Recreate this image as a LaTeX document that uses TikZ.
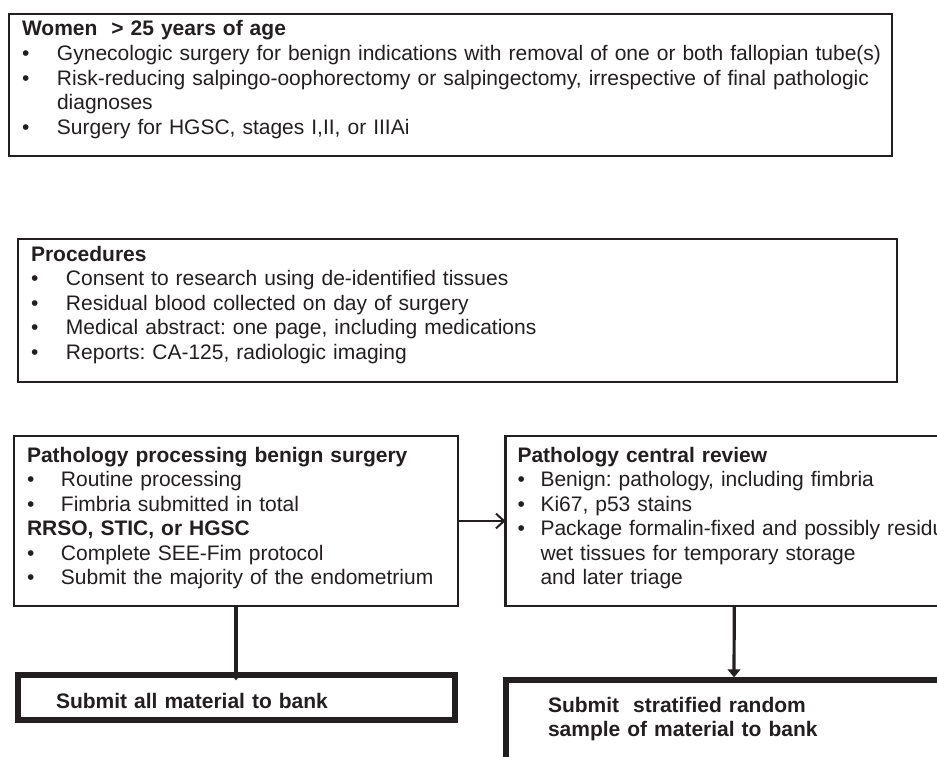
\documentclass[tikz,border=0pt]{standalone}
\usepackage{fontspec}
\setmainfont{Liberation Sans}
\usepackage{tikz}
\definecolor{inkgray}{RGB}{35,31,32}
\usetikzlibrary{arrows.meta, positioning}
\tikzset{
    sgbox/.style={draw=inkgray, text=inkgray, line width=2pt, anchor=north west, align=left,
      inner xsep=9.75pt, inner ysep=0pt, outer sep=0pt,
      font=\fontsize{15.75pt}{18.4pt}\selectfont},
    sgpath/.style={sgbox, line width=1.6pt, text height=19.5pt, text depth=108pt},
    sgbank/.style={sgbox, line width=4.5pt, font=\fontsize{15.75pt}{18.4pt}\selectfont\bfseries},
    sgdown/.style={-{Triangle[length=6pt, width=9.5pt]}, draw=inkgray, line width=2.4pt, shorten >=2pt},
    sgarrow/.style={-{Straight Barb[length=6pt, width=11pt]}, draw=inkgray, line width=1.5pt}
}
\newcommand{\bul}[2][26.25pt]{\mbox{\makebox[#1][l]{\textbullet}#2}}
\frenchspacing

\begin{document}
\begin{tikzpicture}[x=0.75pt, y=-0.75pt]
  \useasboundingbox (0,0) rectangle (937,756);
  \fill[white] (0,0) rectangle (937,756);
  \clip (0,0) rectangle (937,756);

  % inclusion criteria
  \node[sgbox, text width=642.75pt, text height=16.5pt, text depth=90pt] (women) at (9,14)
    {\mbox{\textbf{Women\ \ > 25 years of age}}\\
     \bul{Gynecologic surgery for benign indications with removal of one or both fallopian tube(s)}\\
     \bul{Risk-reducing salpingo-oophorectomy or salpingectomy, irrespective of final pathologic}\\
     \hspace*{26.25pt}diagnoses\\
     \bul{Surgery for HGSC, stages I,II, or IIIAi}};

  % procedures
  \node[sgbox, text width=639.75pt, text height=16.5pt, text depth=90.75pt] (proc) at (18,239)
    {\textbf{Procedures}\\
     \bul{Consent to research using de-identified tissues}\\
     \bul{Residual blood collected on day of surgery}\\
     \bul{Medical abstract: one page, including medications}\\
     \bul{Reports: CA-125, radiologic imaging}};

  % pathology
  \node[sgpath, text width=313.5pt] (pbenign) at (14,436)
    {\mbox{\textbf{Pathology processing benign surgery}}\\
     \bul[25.5pt]{Routine processing}\\
     \bul[25.5pt]{Fimbria submitted in total}\\
     \mbox{\textbf{RRSO, STIC, or HGSC}}\\
     \bul[25.5pt]{Complete SEE-Fim protocol}\\
     \bul[25.5pt]{Submit the majority of the endometrium}};
  \node[sgpath, text width=325.125pt, inner xsep=9pt] (preview) at (505.5,436)
    {\mbox{\textbf{Pathology central review}}\\
     \bul[17.25pt]{Benign: pathology, including fimbria}\\
     \bul[17.25pt]{Ki67, p53 stains}\\
     \bul[17.25pt]{Package formalin-fixed and possibly residual}\\
     \hspace*{17.25pt}\mbox{wet tissues for temporary storage}\\
     \hspace*{17.25pt}\mbox{and later triage}};

  % banking
  \node[sgbank, text width=270.75pt, inner xsep=28.5pt, text height=24.75pt, text depth=9pt] (bankall) at (18,675)
    {\mbox{Submit all material to bank}};
  \node[sgbank, text width=279pt, inner xsep=31.5pt, text height=24pt, text depth=66pt] (banksample) at (506,680)
    {\mbox{Submit\ \ stratified random}\\
     \mbox{sample of material to bank}};

  \draw[sgarrow] (pbenign) -- (preview);
  \draw[sgdown, shorten >=-4pt] (pbenign.south) -- (pbenign.south |- bankall.north);
  \draw[sgdown] (preview.south) -- (banksample.north);
\end{tikzpicture}
\end{document}
